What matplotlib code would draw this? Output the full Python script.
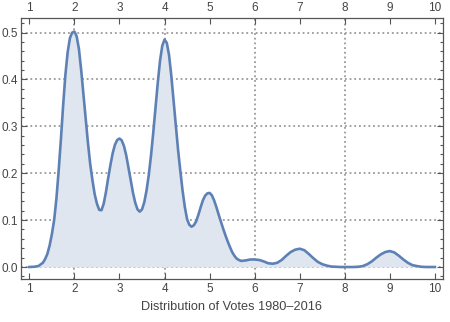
import matplotlib
matplotlib.use("Agg")

import matplotlib.pyplot as plt
import numpy as np
from matplotlib.ticker import MultipleLocator, FormatStrFormatter

# --- values ---
votes = [1.0, 1.1, 1.2, 1.3, 1.35, 1.4, 1.45, 1.5, 1.55, 1.6, 1.65, 1.7, 1.75,
         1.8, 1.85, 1.9, 1.95, 2.0, 2.05, 2.1, 2.15, 2.2, 2.25, 2.3, 2.35, 2.4,
         2.45, 2.5, 2.55, 2.6, 2.65, 2.7, 2.75, 2.8, 2.85, 2.9, 2.95, 3.0, 3.05,
         3.1, 3.15, 3.2, 3.25, 3.3, 3.35, 3.4, 3.45, 3.5, 3.55, 3.6, 3.65, 3.7,
         3.75, 3.8, 3.85, 3.9, 3.95, 4.0, 4.05, 4.1, 4.15, 4.2, 4.25, 4.3, 4.35,
         4.4, 4.45, 4.5, 4.55, 4.6, 4.65, 4.7, 4.75, 4.8, 4.85, 4.9, 4.95, 5.0,
         5.05, 5.1, 5.15, 5.2, 5.25, 5.3, 5.35, 5.4, 5.45, 5.5, 5.55, 5.6, 5.65,
         5.7, 5.8, 5.9, 6.0, 6.1, 6.2, 6.3, 6.4, 6.5, 6.6, 6.7, 6.8, 6.9, 7.0,
         7.1, 7.2, 7.3, 7.4, 7.5, 7.6, 7.7, 7.8, 7.9, 8.0, 8.1, 8.2, 8.3, 8.4,
         8.5, 8.6, 8.7, 8.8, 8.9, 9.0, 9.1, 9.2, 9.3, 9.4, 9.5, 9.6, 9.7, 9.8,
         9.9, 10.0]
density = [0.0, 0.0005, 0.002, 0.009, 0.017, 0.028, 0.046, 0.070, 0.100, 0.145,
           0.205, 0.272, 0.345, 0.410, 0.458, 0.488, 0.500, 0.502, 0.492, 0.465,
           0.420, 0.368, 0.315, 0.265, 0.220, 0.185, 0.155, 0.135, 0.122, 0.121,
           0.135, 0.160, 0.190, 0.218, 0.243, 0.261, 0.271, 0.274, 0.270, 0.258,
           0.238, 0.212, 0.185, 0.158, 0.137, 0.123, 0.118, 0.123, 0.138, 0.163,
           0.196, 0.238, 0.287, 0.340, 0.393, 0.440, 0.472, 0.485, 0.478, 0.452,
           0.408, 0.355, 0.302, 0.250, 0.205, 0.163, 0.128, 0.102, 0.090, 0.086,
           0.089, 0.097, 0.111, 0.127, 0.142, 0.152, 0.157, 0.158, 0.153, 0.142,
           0.128, 0.112, 0.097, 0.082, 0.068, 0.055, 0.043, 0.032, 0.024, 0.018,
           0.015, 0.013, 0.014, 0.016, 0.016, 0.015, 0.012, 0.008, 0.007, 0.009,
           0.015, 0.024, 0.032, 0.037, 0.039, 0.036, 0.028, 0.019, 0.011, 0.006,
           0.003, 0.001, 0.0005, 0.0, 0.0, 0.0, 0.0, 0.0005, 0.002, 0.006, 0.012,
           0.020, 0.027, 0.032, 0.034, 0.031, 0.024, 0.016, 0.009, 0.004, 0.002,
           0.0005, 0.0, 0.0, 0.0]
xticks = [1, 2, 3, 4, 5, 6, 7, 8, 9, 10]
yticks = [0.0, 0.1, 0.2, 0.3, 0.4, 0.5]
xgrid = [2, 4, 6, 8]
xlabel = "Distribution of Votes 1980\u20132016"

line_col = "#5E81B5"
fill_col = "#DFE6F0"
frame_col = "#555555"
text_col = "#444444"

plt.rcParams["font.family"] = ["Liberation Sans", "DejaVu Sans"]

fig = plt.figure(figsize=(4.5, 3.22), dpi=100)
ax = fig.add_axes([0.0467, 0.1335, 0.9373, 0.8105])

# grid lines (dotted, gray)
for g in xgrid:
    ax.axvline(g, color="#9A9A9A", lw=1.3, ls=(0, (1, 1.6)), zorder=1)
for g in yticks:
    ax.axhline(g, color="#9A9A9A", lw=1.3, ls=(0, (1, 1.6)), zorder=1)

ax.fill_between(votes, 0, density, color=fill_col, lw=0, zorder=2)
ax.plot(votes, density, color=line_col, lw=1.9, solid_joinstyle="round", zorder=3)

ax.set_xlim(0.815, 10.175)
ax.set_ylim(-0.0256, 0.531)

ax.set_xticks(xticks)
ax.set_yticks(yticks)
ax.yaxis.set_major_formatter(FormatStrFormatter("%.1f"))
ax.yaxis.set_minor_locator(MultipleLocator(0.02))

ax.tick_params(axis="both", which="both", direction="in", colors=frame_col,
               labelcolor=text_col, labelsize=8.5, width=0.8)
ax.tick_params(axis="x", which="both", top=True, labeltop=True, pad=3)
ax.tick_params(axis="y", which="both", right=True, pad=2)
ax.tick_params(which="major", length=4)
ax.tick_params(which="minor", length=2)

for s in ax.spines.values():
    s.set_color(frame_col)
    s.set_linewidth(0.9)

ax.set_xlabel(xlabel, color=text_col, fontsize=9.2, labelpad=4)

fig.savefig("out.png", dpi=100)
